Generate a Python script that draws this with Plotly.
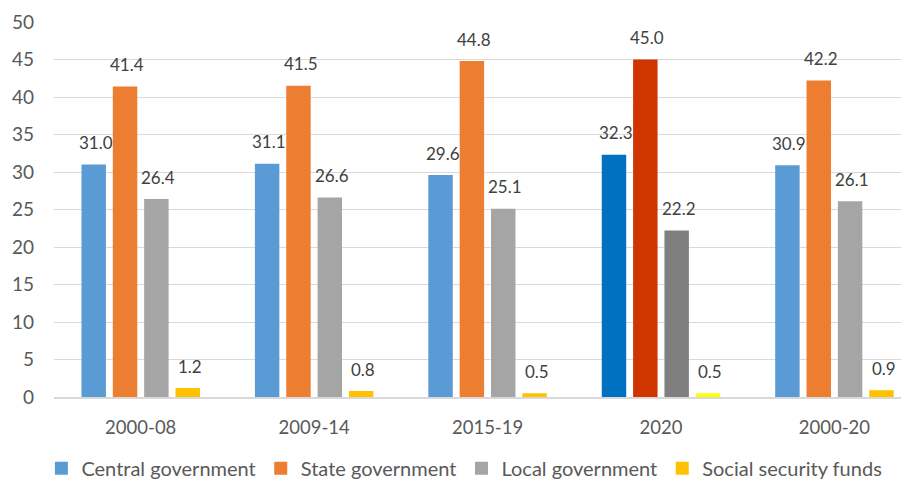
import plotly.graph_objects as go

categories = ["2000-08", "2009-14", "2015-19", "2020", "2000-20"]
series_names = ["Central government", "State government", "Local government", "Social security funds"]
central = [31.0, 31.1, 29.6, 32.3, 30.9]
state = [41.4, 41.5, 44.8, 45.0, 42.2]
local = [26.4, 26.6, 25.1, 22.2, 26.1]
social = [1.2, 0.8, 0.5, 0.5, 0.9]
y_ticks = [0, 5, 10, 15, 20, 25, 30, 35, 40, 45, 50]

values = [central, state, local, social]
base_colors = ["#5B9BD5", "#ED7D31", "#A5A5A5", "#FFC000"]
hi_colors = ["#0070C0", "#D03500", "#7F7F7F", "#FFFF00"]
highlight = "2020"

FONT = "Lato"
TXT = "#404040"
bargap = 0.277
fig = go.Figure()
for name, vals, bc, hc in zip(series_names, values, base_colors, hi_colors):
    cols = [hc if c == highlight else bc for c in categories]
    fig.add_trace(go.Bar(x=categories, y=vals, name=name, marker=dict(color=cols, line=dict(width=0)),
                         showlegend=False))
    fig.add_trace(go.Scatter(x=[None], y=[None], mode="markers", name=name,
                             marker=dict(symbol="square", size=13, color=bc)))

slot = (1 - bargap) / len(series_names)
annotations = []
for i, vals in enumerate(values):
    off = (i - (len(series_names) - 1) / 2) * slot
    for j, v in enumerate(vals):
        annotations.append(dict(x=j + off + 0.012, y=v, xref="x", yref="y", text=f"{v:.1f}",
                                showarrow=False, yanchor="middle", yshift=22,
                                font=dict(family=FONT, size=17, color=TXT)))

fig.update_layout(
    width=901, height=475,
    margin=dict(l=46, r=0, t=14, b=86, autoexpand=False),
    plot_bgcolor="white", paper_bgcolor="white",
    barmode="group", bargap=bargap, bargroupgap=0.22,
    font=dict(family=FONT, color="#595959", size=18),
    annotations=annotations,
    xaxis=dict(type="category", range=[-0.5, 4.43], showgrid=False, showline=True, automargin=False,
               linecolor="#D9D9D9", linewidth=1.5, ticks="", ticklabelstandoff=13,
               tickfont=dict(family=FONT, size=18.5, color="#595959")),
    yaxis=dict(range=[0, 50], tickvals=y_ticks, showgrid=True, gridcolor="#D9D9D9", gridwidth=1.3,
               zeroline=False, ticks="", ticklabelstandoff=19, automargin=False,
               tickfont=dict(family=FONT, size=19, color="#595959")),
    legend=dict(orientation="h", x=0.48, xanchor="center", y=-0.19, yanchor="middle",
                font=dict(family=FONT, size=20, color="#595959"), itemwidth=30,
                tracegroupgap=0, bgcolor="rgba(0,0,0,0)"),
)
fig.write_html("out.html")
